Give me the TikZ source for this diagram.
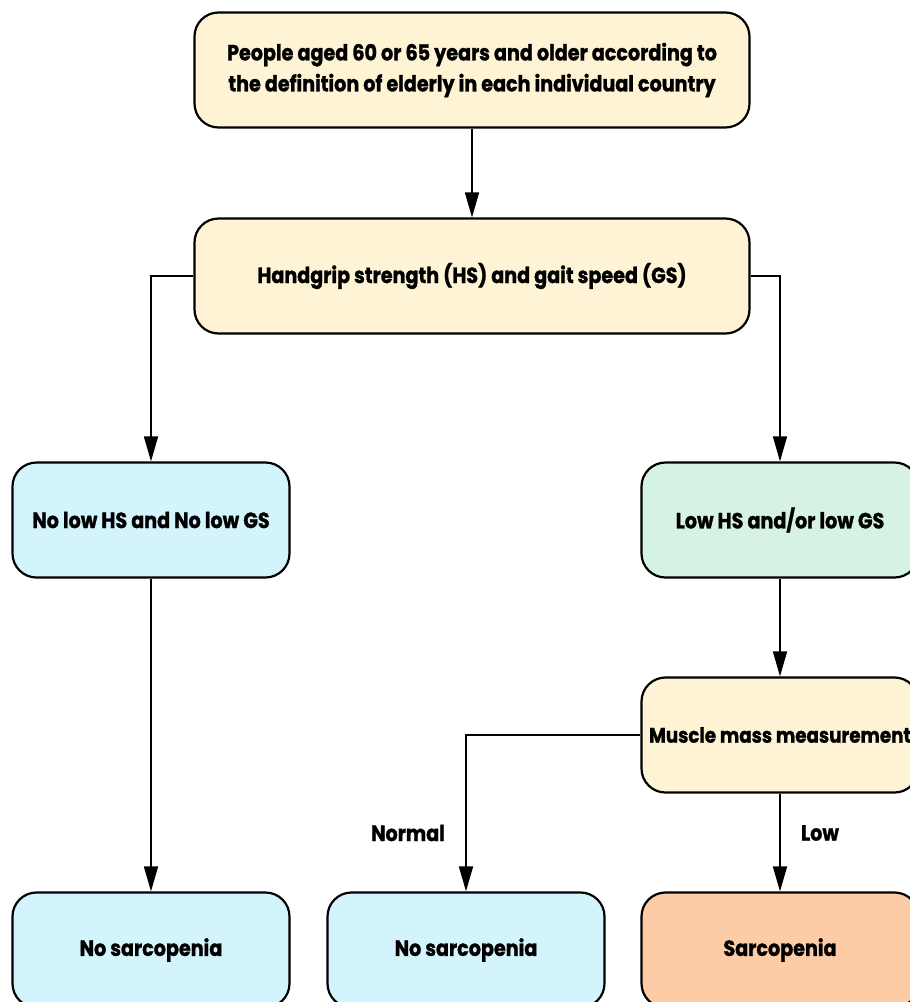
\documentclass[tikz,border=0pt]{standalone}
\usepackage{fontspec}
\setmainfont{Poppins}[FakeStretch=0.87, BoldFeatures={FakeBold=1.2}]
\usetikzlibrary{arrows.meta}
\definecolor{cream}{HTML}{FEF3D5}
\definecolor{lblue}{HTML}{D4F4FD}
\definecolor{lgreen}{HTML}{D5F2E3}
\definecolor{lorange}{HTML}{FDCBA6}
\tikzset{
  boxst/.style={draw=black, line width=2.2pt, rounded corners=24pt, minimum height=115pt, align=center, font=\fontsize{22}{31}\selectfont\bfseries, inner sep=0pt},
  wide/.style={boxst, minimum width=555pt, fill=cream},
  narrow/.style={boxst, minimum width=277pt},
  conn/.style={line width=1.6pt, -{Triangle[length=25pt,width=14pt]}},
  lbl/.style={font=\fontsize{22}{26}\selectfont\bfseries}
}
\begin{document}
\begin{tikzpicture}[x=1pt,y=-1pt]
\useasboundingbox (0,0) rectangle (910,1002);
\clip (0,0) rectangle (910,1002);
\node[wide] (top) at (472,70) {People aged 60 or 65 years and older according to\\the definition of elderly in each individual country};
\node[wide] (hs) at (472,276) {Handgrip strength (HS) and gait speed (GS)};
\node[narrow, fill=lblue] (nolow) at (151,520) {No low HS and No low GS};
\node[narrow, fill=lgreen] (low) at (780,520) {Low HS and/or low GS};
\node[narrow, fill=cream, font=\fontsize{21}{31}\selectfont\bfseries] (mm) at (780,735) {Muscle mass measurement};
\node[narrow, fill=lblue] (ns1) at (151,950) {No sarcopenia};
\node[narrow, fill=lblue] (ns2) at (466,950) {No sarcopenia};
\node[narrow, fill=lorange] (sarc) at (780,950) {Sarcopenia};
\draw[conn] (top) -- (hs);
\draw[conn] (hs.west) -| (nolow.north);
\draw[conn] (hs.east) -| (low.north);
\draw[conn] (nolow) -- (ns1);
\draw[conn] (low) -- (mm);
\draw[conn] (mm.west) -| (ns2.north);
\draw[conn] (mm) -- (sarc);
\node[lbl] (normal) at (408,833) {Normal};
\node[lbl] (lowl) at (820,833) {Low};
\end{tikzpicture}
\end{document}
